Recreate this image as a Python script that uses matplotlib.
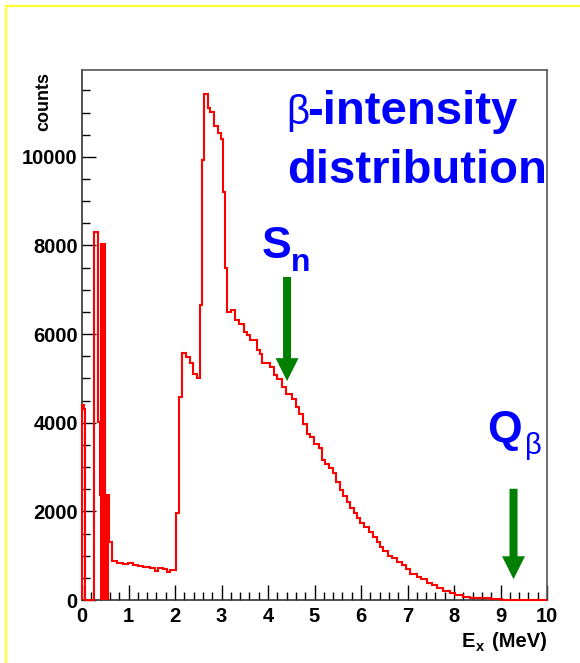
import matplotlib
matplotlib.use("Agg")
import matplotlib.pyplot as plt
from matplotlib.patches import Rectangle
from matplotlib.ticker import MultipleLocator

plt.rcParams['font.family'] = ['Liberation Sans', 'DejaVu Sans']

# ---- data ----
edges = [0.00, 0.04, 0.07, 0.26, 0.35, 0.385, 0.415, 0.50, 0.575, 0.635,
         0.746, 0.889, 0.997, 1.104, 1.211, 1.319, 1.462, 1.570, 1.641, 1.749,
         1.820, 1.892, 2.022, 2.093, 2.143, 2.236, 2.323, 2.380, 2.466, 2.538,
         2.590, 2.631, 2.703, 2.753, 2.845, 2.932, 2.982, 3.039, 3.082, 3.125,
         3.211, 3.283, 3.369, 3.477, 3.548, 3.620, 3.763, 3.820, 3.871, 4.050,
         4.122, 4.194, 4.301, 4.387, 4.516, 4.602, 4.674, 4.746, 4.839, 4.911,
         4.982, 5.090, 5.161, 5.219, 5.305, 5.390, 5.462, 5.548, 5.620, 5.692,
         5.763, 5.849, 5.907, 5.978, 6.065, 6.179, 6.251, 6.337, 6.409, 6.480,
         6.588, 6.659, 6.767, 6.874, 6.968, 7.054, 7.197, 7.283, 7.412, 7.520,
         7.627, 7.771, 7.914, 8.022, 8.201, 8.344, 8.559, 8.774, 9.025, 10.0]
counts = [4400, 4300, 0, 8300, 4020, 2370, 8040, 2370, 1320,
          880, 842, 812, 827, 790, 767, 737, 715, 662, 715,
          700, 640, 677, 1956, 4590, 5582, 5492, 5357, 5093, 5003,
          6658, 9931, 11413, 11112, 11007, 10706, 10533, 10405, 9216, 7486,
          6508, 6546, 6321, 6223, 6057, 5982, 5869, 5643, 5553, 5343,
          5253, 5079, 4982, 4801, 4650, 4530, 4350, 4199, 3973, 3747,
          3672, 3521, 3424, 3160, 3070, 2973, 2859, 2671, 2483, 2347,
          2219, 2069, 1956, 1843, 1731, 1640, 1542, 1429, 1316, 1203,
          1106, 1001, 940, 865, 790, 692, 587, 527, 467, 392,
          339, 278, 211, 166, 113, 75, 52, 38, 23, 0]

# unresolved fine-binned region (appears solid)
dense_edges = [0.385, 0.415, 0.50, 0.575]
dense_counts = [2370, 8040, 2370]

x_major = list(range(0, 11))
y_major = [0, 2000, 4000, 6000, 8000, 10000]

S_n = 4.41
S_n_arrow = (7290, 4940)
Q_beta = 9.28
Q_beta_arrow = (2510, 470)

W, H = 580, 663
fig = plt.figure(figsize=(W / 100, H / 100), dpi=100)
fig.patch.set_facecolor('white')


def fp(x, y):
    return x / W, 1 - y / H


ax = fig.add_axes([82 / W, 1 - 600 / H, (547 - 82) / W, (600 - 70) / H])
ax.set_xlim(0, 10)
ax.set_ylim(0, 11960)

ax.stairs(dense_counts, dense_edges, fill=True, color='red', lw=0, zorder=3)
ax.stairs(counts, edges, color='red', lw=1.5, baseline=0, zorder=3, clip_on=False)

arrow_style = 'simple,head_length=1,head_width=1,tail_width=0.35'
for xpos, (y0, y1) in [(S_n, S_n_arrow), (Q_beta, Q_beta_arrow)]:
    ax.annotate('', xy=(xpos, y1), xytext=(xpos, y0),
                arrowprops=dict(arrowstyle=arrow_style, mutation_scale=16.5,
                                color='#007f00', lw=0, shrinkA=0, shrinkB=0))

ax.set_xticks(x_major)
ax.set_yticks(y_major)
ax.xaxis.set_minor_locator(MultipleLocator(0.2))
ax.yaxis.set_minor_locator(MultipleLocator(500))
ax.tick_params(which='both', direction='in', top=False, right=False, color='black', width=1)
ax.tick_params(which='major', axis='x', length=11, pad=5)
ax.tick_params(which='minor', axis='x', length=5.5)
ax.tick_params(which='major', axis='y', length=10, pad=3)
ax.tick_params(which='minor', axis='y', length=5.5)
for lab in ax.get_xticklabels() + ax.get_yticklabels():
    lab.set_fontsize(14.5)
    lab.set_fontweight('bold')

for s in ['top', 'right']:
    ax.spines[s].set_color('#555555')
    ax.spines[s].set_linewidth(1.2)
for s in ['left', 'bottom']:
    ax.spines[s].set_color('#333333')
    ax.spines[s].set_linewidth(1.2)

# axis titles
fig.text(*fp(44, 72), 'counts', rotation=90, ha='center', va='top',
         fontsize=13, fontweight='bold')
fig.text(*fp(462, 647), 'E', ha='left', va='baseline', fontsize=14.5, fontweight='bold')
fig.text(*fp(476, 651), 'x', ha='left', va='baseline', fontsize=10.5, fontweight='bold')
fig.text(*fp(547, 647), '(MeV)', ha='right', va='baseline', fontsize=14.5, fontweight='bold')

blue = '#0000ff'
fig.text(*fp(286, 124), 'β', ha='left', va='baseline', fontsize=29, color=blue)
fig.text(*fp(307, 124), '-intensity', ha='left', va='baseline', fontsize=34,
         fontweight='bold', color=blue)
fig.text(*fp(287, 183), 'distribution', ha='left', va='baseline', fontsize=34,
         fontweight='bold', color=blue)
fig.text(*fp(262, 258), 'S', ha='left', va='baseline', fontsize=32,
         fontweight='bold', color=blue)
fig.text(*fp(291, 271), 'n', ha='left', va='baseline', fontsize=23,
         fontweight='bold', color=blue)
fig.text(*fp(487, 442), 'Q', ha='left', va='baseline', fontsize=32,
         fontweight='bold', color=blue)
fig.text(*fp(525, 454), 'β', ha='left', va='baseline', fontsize=21, color=blue)

# yellow frame (right and bottom sides lie outside the picture)
fig.patches.append(Rectangle(fp(6, 800), 2, (800 - 6) / H,
                             transform=fig.transFigure, fill=False,
                             edgecolor='#ffff33', lw=1.6))

fig.savefig('out.png', dpi=100, facecolor='white')
